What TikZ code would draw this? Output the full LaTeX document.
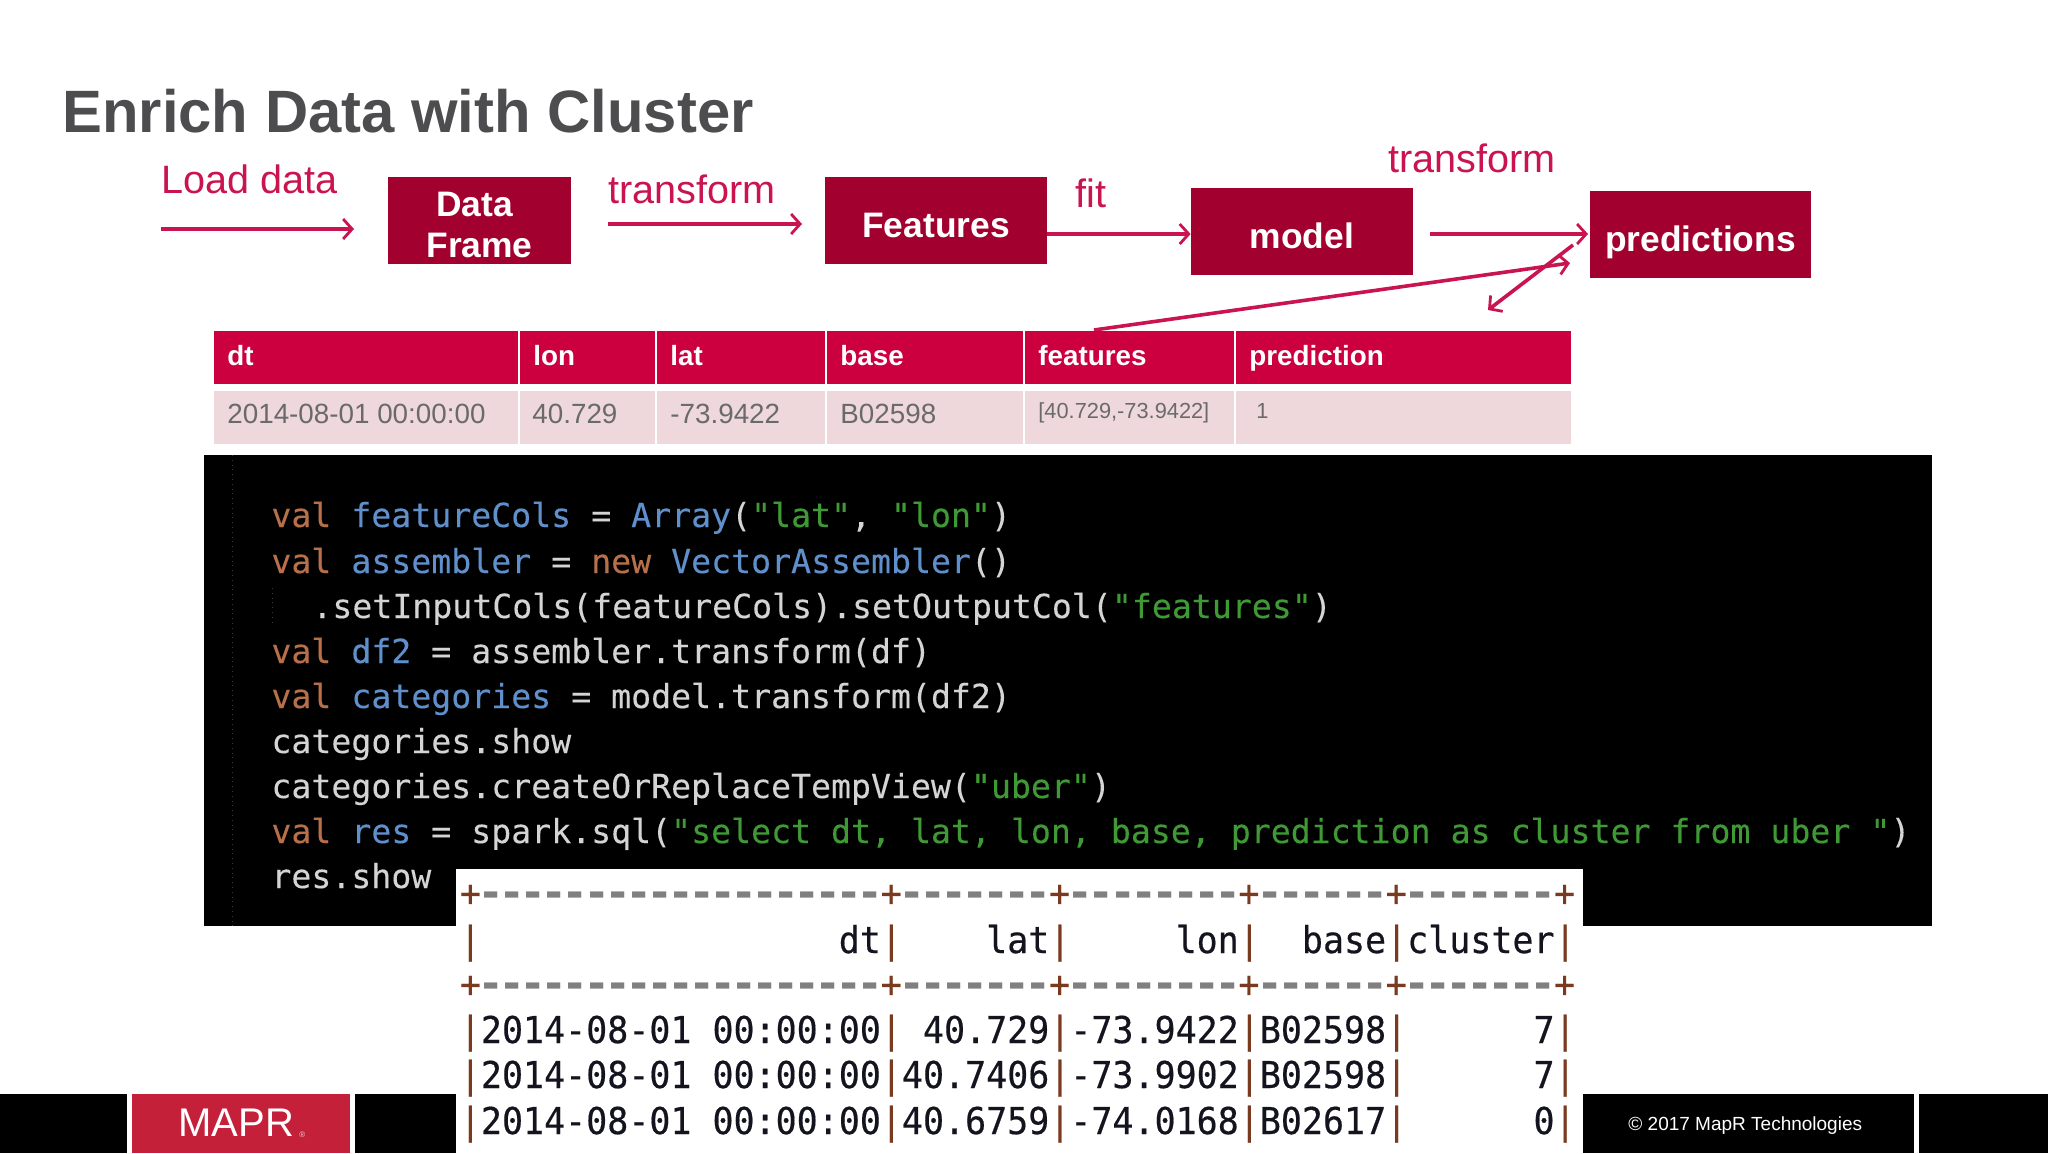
\documentclass[tikz,border=0pt]{standalone}
\usepackage{fontspec}
\setmainfont{Liberation Sans}
\setmonofont{DejaVu Sans Mono}
\newfontfamily\codefont[FakeBold=0.15]{DejaVu Sans Mono}
\newfontfamily\outfont[FakeBold=0.45,FakeStretch=0.945]{DejaVu Sans Mono}
\usetikzlibrary{arrows.meta}

\definecolor{boxred}{HTML}{A2002F}
\definecolor{headred}{HTML}{CC003F}
\definecolor{rowpink}{HTML}{EED8DC}
\definecolor{inkred}{HTML}{C9144F}
\definecolor{titlegray}{HTML}{4D4D4F}
\definecolor{cellgray}{HTML}{6A6A6A}
\definecolor{logored}{HTML}{C4203A}
\definecolor{kwcol}{HTML}{B8704A}
\definecolor{idcol}{HTML}{5F90CC}
\definecolor{strcol}{HTML}{3F9A35}
\definecolor{codecol}{HTML}{D4D4D4}
\definecolor{pipecol}{HTML}{7A3A20}
\definecolor{dashcol}{HTML}{808080}
\definecolor{outcol}{HTML}{14141F}

\newcommand{\kw}[1]{\textcolor{kwcol}{#1}}
\newcommand{\id}[1]{\textcolor{idcol}{#1}}
\newcommand{\str}[1]{\textcolor{strcol}{#1}}
\newcommand{\pp}{\textcolor{pipecol}{|}}
\newcommand{\tick}{\textcolor{pipecol}{+}}
\newcommand{\dd}{\makebox[10.52pt][c]{\raisebox{-1pt}{\fontsize{26}{26}\selectfont\rmfamily\bfseries -}}}
\newcommand{\dashrun}[1]{\foreach \i in {1,...,#1}{\dd}}
\newcommand{\outrulerow}{\tick\dashrun{19}\tick\dashrun{7}\tick\dashrun{8}\tick\dashrun{6}\tick\dashrun{7}\tick}

\tikzset{
	flowbox/.style={fill=boxred, text=white, font=\fontsize{17.7}{20.4}\selectfont\bfseries, inner sep=0pt, minimum height=43.5pt, align=center},
	flowword/.style={flowbox, text height=16.5pt, text depth=0pt},
	flowlabel/.style={text=inkred, font=\fontsize{19.8}{22}\selectfont, inner sep=0pt, anchor=base west},
	flowarrow/.style={-{Straight Barb[length=4.5pt,width=10pt,line width=1.4pt]}, line width=1.8pt, inkred},
	headtext/.style={text=white, font=\fontsize{13.9}{16}\selectfont\bfseries, inner sep=0pt, anchor=base west},
	celltext/.style={text=cellgray, font=\fontsize{13.9}{16}\selectfont, inner sep=0pt, anchor=base west},
	smalltext/.style={text=cellgray, font=\fontsize{10.9}{13}\selectfont, inner sep=0pt, anchor=base west},
	codeline/.style={text=codecol, font=\fontsize{16.6}{20}\selectfont\codefont, inner sep=0pt, anchor=base west},
	outline/.style={text=outcol, font=\fontsize{18.5}{20}\selectfont\outfont, inner sep=0pt, anchor=base west},
	outrule/.style={outline, text=dashcol}
}

\begin{document}
\begin{tikzpicture}[x=0.5pt, y=-0.5pt]
	\useasboundingbox (0,0) rectangle (2048,1153);
	\node[text=titlegray, font=\fontsize{29.9}{34}\selectfont\bfseries, inner sep=0pt, anchor=base west] (title) at (62,132) {Enrich Data with Cluster};

	\node[flowbox, minimum width=91.5pt] (dataframe) at (479.5,220.5) {\rule{0pt}{16.5pt}Data\hspace*{5pt}\\Frame};
	\node[flowword, minimum width=111pt] (features) at (936,220.5) {Features};
	\node[flowword, minimum width=111pt] (model) at (1302,231.5) {model};
	\node[flowword, minimum width=110.5pt] (predictions) at (1700.5,234.5) {predictions};

	\node[flowlabel] (loadlabel) at (161,193) {Load data};
	\node[flowlabel] (transformone) at (608,203) {transform};
	\node[flowlabel] (fitlabel) at (1075,207) {fit};
	\node[flowlabel] (transformtwo) at (1388,172) {transform};

	\coordinate (loadfrom) at (161,229);
	\coordinate (loadto) at (354,229);
	\coordinate (transfrom) at (608,224);
	\coordinate (transto) at (802,224);
	\coordinate (fitfrom) at (1047,234);
	\coordinate (modelout) at (1430,234);
	\coordinate (predin) at (1588,234);
	\coordinate (featfrom) at (1094,330);
	\coordinate (featto) at (1570,263);
	\coordinate (predfrom) at (1573,245);
	\coordinate (predto) at (1488,310);
	\draw[flowarrow] (loadfrom)--(loadto);
	\draw[flowarrow] (transfrom)--(transto);
	\draw[flowarrow] (fitfrom)--(fitfrom -| model.west);
	\draw[flowarrow] (modelout)--(predin);
	\draw[flowarrow] (featfrom)--(featto);
	\draw[flowarrow] (predfrom)--(predto);

	\foreach \colname/\l/\r/\head in {dt/214/518/dt, lon/520/655/lon, lat/657/825/lat, base/827/1023/base, features/1025/1234/features, prediction/1236/1571/prediction}{
		\fill[headred] (\l,331) rectangle (\r,384);
		\fill[rowpink] (\l,391) rectangle (\r,444);
		\node[headtext] (head\colname) at (\l+13,365) {\head};
	}
	\node[celltext] (rowdt) at (227,423) {2014-08-01 00:00:00};
	\node[celltext] (rowlon) at (532,423) {40.729};
	\node[celltext] (rowlat) at (670,423) {-73.9422};
	\node[celltext] (rowbase) at (840,423) {B02598};
	\node[smalltext] (rowfeatures) at (1038,418) {[40.729,-73.9422]};
	\node[smalltext] (rowprediction) at (1256,418) {1};

	\fill[black] (204,455) rectangle (1932,926);
	\draw[gray!45!black, dotted, line width=0.4pt] (232,455)--(232,926);
	\draw[gray!45!black, dotted, line width=0.4pt] (272,588)--(272,625);
	\node[codeline] (code1) at (271,527) {\kw{val} \id{featureCols} = \id{Array}(\str{"lat"}, \str{"lon"})};
	\node[codeline] (code2) at (271,573) {\kw{val} \id{assembler} = \kw{new} \id{VectorAssembler}()};
	\node[codeline] (code3) at (312,618) {.setInputCols(featureCols).setOutputCol(\str{"features"})};
	\node[codeline] (code4) at (271,663) {\kw{val} \id{df2} = assembler.transform(df)};
	\node[codeline] (code5) at (271,708) {\kw{val} \id{categories} = model.transform(df2)};
	\node[codeline] (code6) at (271,753) {categories.show};
	\node[codeline] (code7) at (271,798) {categories.createOrReplaceTempView(\str{"uber"})};
	\node[codeline] (code8) at (271,843) {\kw{val} \id{res} = spark.sql(\str{"select dt, lat, lon, base, prediction as cluster from uber "})};
	\node[codeline] (code9) at (271,888) {res.show};

	\fill[white] (456,869) rectangle (1583,1153);
	\node[outrule] (ruleone) at (459.5,906) {\outrulerow};
	\node[outline] (outhead) at (459.5,953) {\pp~~~~~~~~~~~~~~~~~dt\pp~~~~lat\pp~~~~~lon\pp~~base\pp{}cluster\pp};
	\node[outrule] (ruletwo) at (459.5,997) {\outrulerow};
	\node[outline] (outrow1) at (459.5,1043) {\pp{}2014-08-01~00:00:00\pp~40.729\pp-73.9422\pp{}B02598\pp~~~~~~7\pp};
	\node[outline] (outrow2) at (459.5,1088) {\pp{}2014-08-01~00:00:00\pp{}40.7406\pp-73.9902\pp{}B02598\pp~~~~~~7\pp};
	\node[outline] (outrow3) at (459.5,1134) {\pp{}2014-08-01~00:00:00\pp{}40.6759\pp-74.0168\pp{}B02617\pp~~~~~~0\pp};

	\fill[black] (0,1094) rectangle (127,1153);
	\fill[logored] (132,1094) rectangle (350,1153);
	\fill[black] (355,1094) rectangle (456,1153);
	\fill[black] (1583,1094) rectangle (1914,1153);
	\fill[black] (1919,1094) rectangle (2048,1153);
	\node[text=white, font=\fontsize{20}{22}\selectfont, inner sep=0pt, anchor=base west] (logo) at (178,1136) {MAPR};
	\node[text=white!75!logored, font=\fontsize{4}{5}\selectfont, inner sep=0pt, anchor=base west] (logomark) at (299,1137) {®};
	\node[text=white, font=\fontsize{9.5}{11}\selectfont, inner sep=0pt, anchor=base west] (copyright) at (1628,1130) {© 2017 MapR Technologies};
\end{tikzpicture}
\end{document}
